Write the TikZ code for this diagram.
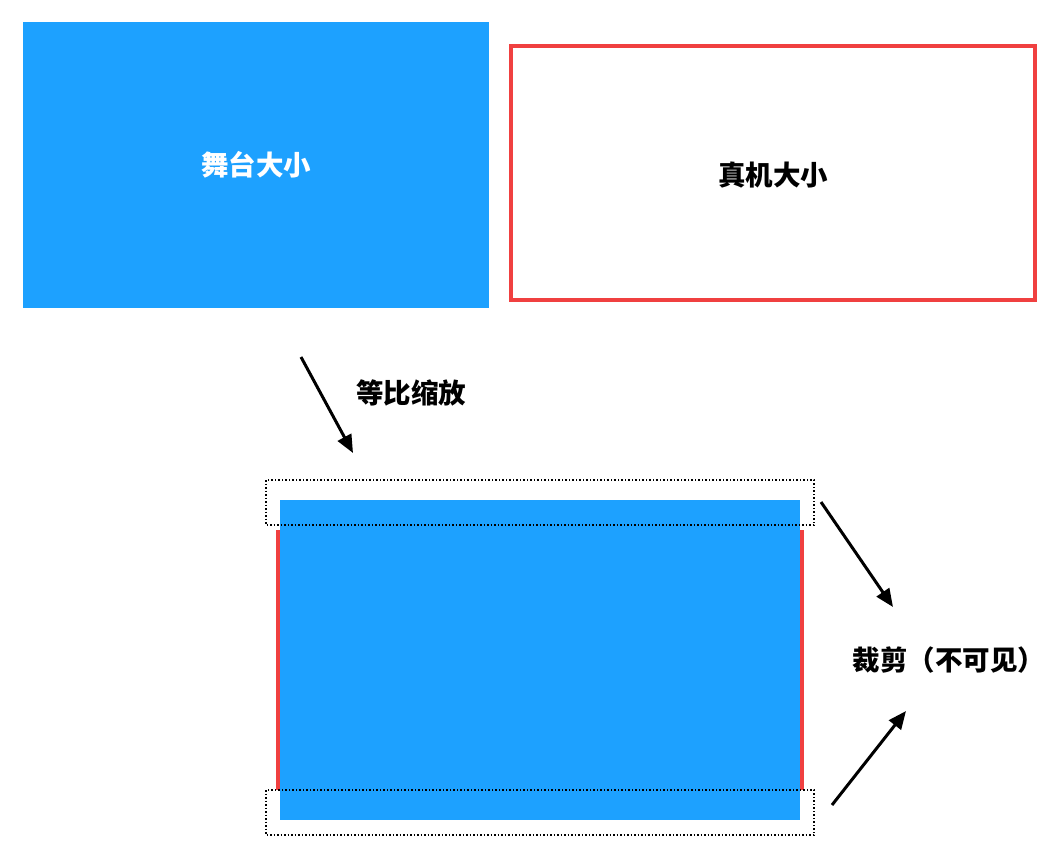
\documentclass[tikz,border=0pt]{standalone}
\usepackage{fontspec}
\setmainfont{Noto Sans CJK SC}
\usetikzlibrary{arrows.meta}
\definecolor{stageblue}{RGB}{29,161,255}
\definecolor{devred}{RGB}{240,64,64}
\tikzset{
  lbl/.style={font=\fontsize{27.5}{32}\selectfont\bfseries, inner sep=0pt},
  cropbox/.style={draw=black, line width=1.5pt, dash pattern=on 1.5pt off 2pt},
  arr/.style={line width=3pt, -{Triangle[length=18pt,width=15pt]}},
}
\begin{document}
\begin{tikzpicture}[x=1pt,y=-1pt]
\useasboundingbox (0,0) rectangle (1060,846);
% top shapes
\fill[stageblue] (23,22) rectangle (489,308);
\node[lbl, text=white] (stage) at (256,165) {舞台大小};
\draw[devred, line width=4pt] (511,46) rectangle (1035,300);
\node[lbl] (device) at (773,175) {真机大小};
% arrow 1
\coordinate (a1s) at (301,357);
\coordinate (a1e) at (353,453);
\draw[arr] (a1s) -- (a1e);
\node[lbl] (scale) at (411,393) {等比缩放};
% scaled stage
\fill[devred] (276,530) rectangle (804,790);
\fill[stageblue] (280,500) rectangle (800,820);
\draw[cropbox] (266,480) rectangle (814,525);
\draw[cropbox] (266,790) rectangle (814,835);
% crop arrows
\coordinate (a2s) at (821,502);
\coordinate (a2e) at (893,607);
\draw[arr] (a2s) -- (a2e);
\coordinate (a3s) at (832,805);
\coordinate (a3e) at (906,711);
\draw[arr] (a3s) -- (a3e);
\node[lbl] (crop) at (949,660) {裁剪（不可见）};
\end{tikzpicture}
\end{document}
